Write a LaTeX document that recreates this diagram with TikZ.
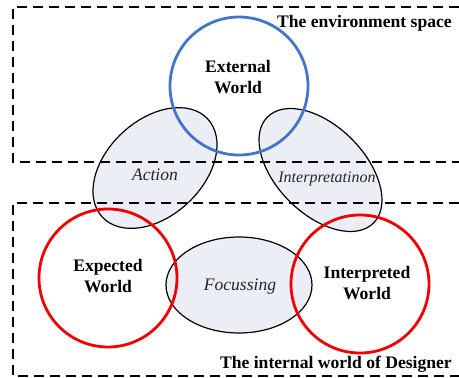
\documentclass[tikz,border=0pt]{standalone}
\usepackage{fontspec}
\setmainfont{Liberation Serif}
\usetikzlibrary{shapes.geometric}
\definecolor{ewblue}{RGB}{66,118,200}
\definecolor{iwred}{RGB}{240,0,0}
\definecolor{procfill}{RGB}{235,239,245}
\begin{document}
\begin{tikzpicture}[x=1pt,y=-1pt,
  world/.style={circle, draw, line width=2.8pt, minimum size=138pt, inner sep=0pt},
  process/.style={ellipse, draw=black, line width=1.2pt, fill=procfill, inner sep=0pt},
  region/.style={draw=black, line width=1.4pt, dash pattern=on 10pt off 6pt},
  boldlbl/.style={font=\fontsize{17.6}{21}\selectfont\bfseries, align=center, inner sep=0pt},
  itlbl/.style={font=\fontsize{17.6}{21}\selectfont\itshape, inner sep=0pt, text=black!85}
]
\useasboundingbox (0,0) rectangle (459,378);
% process ellipses
\node[process, minimum width=144pt, minimum height=96pt, rotate=43] (act) at (155,168) {};
\node[process, minimum width=150pt, minimum height=88pt, rotate=-45] (interp) at (320.5,170) {};
\node[process, minimum width=146pt, minimum height=96pt] (focus) at (239,285) {};
% dashed regions (open on the right)
\coordinate (envTR) at (459,7);
\coordinate (envTL) at (13,7);
\coordinate (envBL) at (13,162);
\coordinate (envBR) at (459,162);
\draw[region] (envTR) -- (envTL) -- (envBL) -- (envBR);
\coordinate (intTR) at (459,203);
\coordinate (intTL) at (13,203);
\coordinate (intBL) at (13,376);
\coordinate (intBR) at (459,376);
\draw[region] (intTR) -- (intTL) -- (intBL) -- (intBR);
% worlds
\node[world, draw=ewblue] (ext) at (239,86) {};
\node[world, draw=iwred] (expw) at (108,278) {};
\node[world, draw=iwred] (intw) at (360,284) {};
% labels
\node[boldlbl] (extl) at (238,77.5) {External\\World};
\node[boldlbl] (expl) at (108,276.5) {Expected\\World};
\node[boldlbl] (intl) at (367,283) {Interpreted\\World};
\node[itlbl, anchor=base] (actl) at (155,180) {Action};
\node[itlbl, anchor=base, font=\fontsize{16}{19}\selectfont\itshape] (interpl) at (327,182) {Interpretatinon};
\node[itlbl, anchor=base] (focl) at (240,290) {Focussing};
\node[boldlbl, anchor=base east] (envl) at (452,27) {The environment space};
\node[boldlbl, anchor=base east] (intwl) at (452,368) {The internal world of Designer};
\end{tikzpicture}
\end{document}
